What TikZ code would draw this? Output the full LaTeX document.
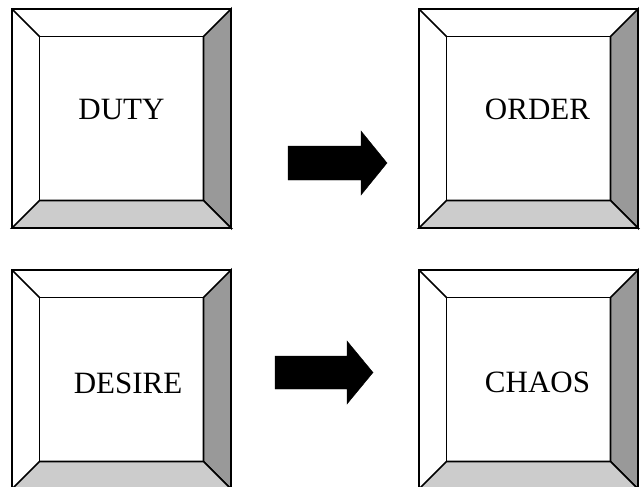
\documentclass[tikz,border=0pt]{standalone}
\usepackage{fontspec}
\setmainfont{Liberation Serif}
\definecolor{darkface}{HTML}{999999}
\definecolor{lightface}{HTML}{CCCCCC}
\tikzset{
  outerbox/.style={draw, line width=1.7pt, minimum width=219pt, minimum height=219pt,
    inner sep=0pt, outer sep=0pt, fill=white},
  face/.style={draw, line width=1.7pt, line join=miter},
  boxtext/.style={font=\fontsize{31}{37}\selectfont, anchor=base, inner sep=0pt},
  bigarrow/.style={fill=black, draw=black, line width=0.4pt}
}
\newcommand\bevelfaces[2]{%
  \draw[face, fill=darkface] (#1.north east) -- ([shift={(-#2,-#2)}]#1.north east)
    -- ([shift={(-#2,#2)}]#1.south east) -- (#1.south east) -- cycle;
  \draw[face, fill=lightface] (#1.south west) -- ([shift={(#2,#2)}]#1.south west)
    -- ([shift={(-#2,#2)}]#1.south east) -- (#1.south east) -- cycle;
  \draw[face] (#1.north west) -- ([shift={(#2,-#2)}]#1.north west);
  \draw[face] ([shift={(#2,-#2)}]#1.north west) rectangle ([shift={(-#2,#2)}]#1.south east);
}
\begin{document}
\begin{tikzpicture}[x=1pt,y=-1pt]
\useasboundingbox (0,0) rectangle (643,487);
\node[outerbox] (duty) at (121.5,118.5) {};
\node[outerbox] (order) at (528.5,118.5) {};
\node[outerbox] (desire) at (121.5,379.5) {};
\node[outerbox] (chaos) at (528.5,379.5) {};
\bevelfaces{duty}{27.5pt}
\bevelfaces{order}{27.5pt}
\bevelfaces{desire}{27.5pt}
\bevelfaces{chaos}{27.5pt}
\node[boxtext] (tduty) at (121.5,120) {DUTY};
\node[boxtext] (torder) at (537.5,119.5) {ORDER};
\node[boxtext] (tdesire) at (128,393) {DESIRE};
\node[boxtext] (tchaos) at (537.5,392.5) {CHAOS};
\fill[bigarrow] (288,146) -- (361,146) -- (361,131) -- (387,163) -- (361,195)
  -- (361,180) -- (288,180) -- cycle;
\fill[bigarrow] (275,356) -- (347,356) -- (347,341) -- (373,372.5) -- (347,404)
  -- (347,389) -- (275,389) -- cycle;
\end{tikzpicture}
\end{document}
